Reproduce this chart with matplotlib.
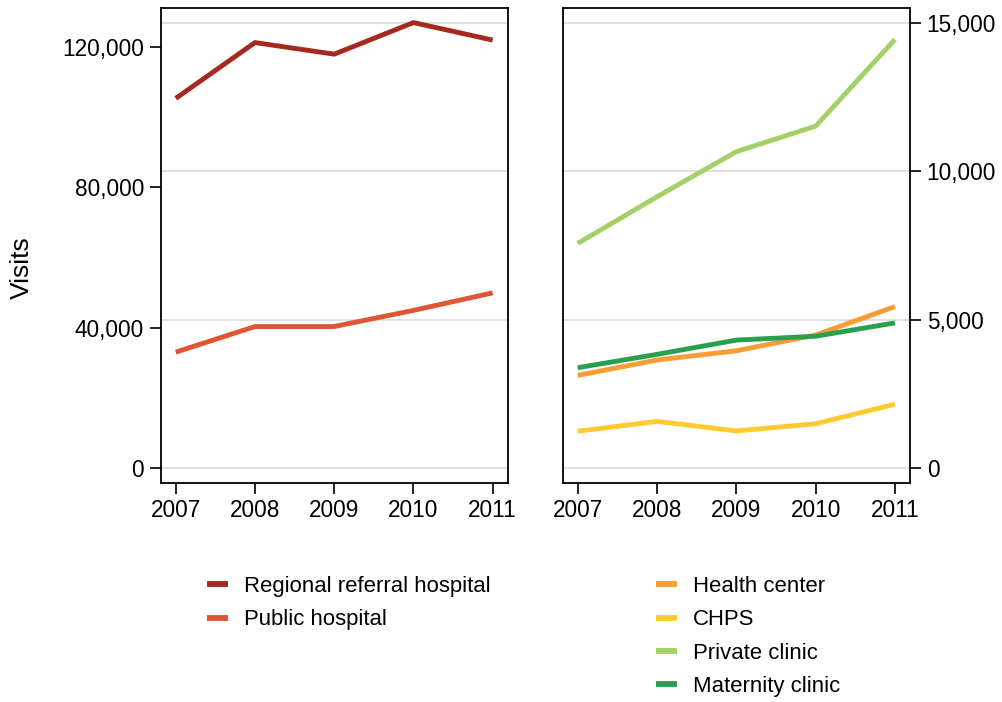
import matplotlib
matplotlib.use("Agg")
import matplotlib.pyplot as plt
from matplotlib.lines import Line2D
from matplotlib.ticker import FuncFormatter

plt.rcParams['font.family'] = ['Liberation Sans', 'DejaVu Sans']

years = [2007, 2008, 2009, 2010, 2011]

# Hospitals (left panel)
regional_referral = [105300, 121200, 117900, 126900, 121900]
public_hospital = [33000, 40300, 40300, 44900, 49900]

# Smaller facilities (right panel)
health_center = [3120, 3640, 3950, 4480, 5440]
chps = [1240, 1570, 1250, 1490, 2150]
private_clinic = [7570, 9140, 10660, 11520, 14440]
maternity_clinic = [3380, 3830, 4310, 4440, 4890]

left_labels = ["Regional referral hospital", "Public hospital"]
right_labels = ["Health center", "CHPS", "Private clinic", "Maternity clinic"]

left_ticks = [0, 40000, 80000, 120000]
right_ticks = [0, 5000, 10000, 15000]

c_regional = "#A5291F"
c_public = "#DE5634"
c_health = "#F79D33"
c_chps = "#FDCA30"
c_private = "#A4D067"
c_maternity = "#2AA04F"

LW = 3.5
FS = 16.3
grid_col = "#DCDCDC"

fig = plt.figure(figsize=(10.03, 7.02), dpi=100)
axL = fig.add_axes([0.1602, 0.3124, 0.346, 0.6762])
axR = fig.add_axes([0.561, 0.3124, 0.3463, 0.6762])

comma = FuncFormatter(lambda v, p: f"{int(v):,}")

# Shared grid positions follow the right-hand scale (0 to 15,000 in steps of 5,000)
r_lo, r_hi = -495, 15500
l_lo, l_hi = -4190, 131050

for ax in (axL, axR):
    ax.set_xlim(2006.81, 2011.19)
    ax.set_xticks(years)
    ax.tick_params(axis='x', labelsize=FS, length=8, width=1.2, direction='out', pad=4)
    for s in ax.spines.values():
        s.set_linewidth(1.3)
        s.set_color("black")

# right panel
axR.set_ylim(r_lo, r_hi)
for g in right_ticks:
    axR.axhline(g, color=grid_col, lw=1.2, zorder=0)
axR.plot(years, health_center, color=c_health, lw=LW, solid_capstyle='butt', label=right_labels[0])
axR.plot(years, chps, color=c_chps, lw=LW, solid_capstyle='butt', label=right_labels[1])
axR.plot(years, private_clinic, color=c_private, lw=LW, solid_capstyle='butt', label=right_labels[2])
axR.plot(years, maternity_clinic, color=c_maternity, lw=LW, solid_capstyle='butt', label=right_labels[3])
axR.yaxis.tick_right()
axR.set_yticks(right_ticks)
axR.yaxis.set_major_formatter(comma)
axR.tick_params(axis='y', labelsize=FS, length=8, width=1.2, direction='out', pad=4,
                left=False, right=True, labelleft=False, labelright=True)

# left panel
axL.set_ylim(l_lo, l_hi)
for g in right_ticks:
    yv = l_lo + (g - r_lo) / (r_hi - r_lo) * (l_hi - l_lo)
    axL.axhline(yv, color=grid_col, lw=1.2, zorder=0)
axL.plot(years, regional_referral, color=c_regional, lw=LW, solid_capstyle='butt', label=left_labels[0])
axL.plot(years, public_hospital, color=c_public, lw=LW, solid_capstyle='butt', label=left_labels[1])
axL.set_yticks(left_ticks)
axL.yaxis.set_major_formatter(comma)
axL.tick_params(axis='y', labelsize=FS, length=8, width=1.2, direction='out', pad=4)

fig.text(0.022, 1 - 267.5 / 702, "Visits", rotation=90, fontsize=19, ha='center', va='center')

def handles(colors):
    return [Line2D([0], [0], color=c, lw=4.2, solid_capstyle='butt') for c in colors]

legkw = dict(frameon=False, fontsize=15.9, handlelength=0.93, handletextpad=0.75,
             labelspacing=0.56, borderpad=0, borderaxespad=0, loc='upper left')
fig.legend(handles([c_regional, c_public]), left_labels,
           bbox_to_anchor=(207 / 1003, 1 - 576 / 702), **legkw)
fig.legend(handles([c_health, c_chps, c_private, c_maternity]), right_labels,
           bbox_to_anchor=(656 / 1003, 1 - 576 / 702), **legkw)

fig.savefig("out.png", dpi=100)
